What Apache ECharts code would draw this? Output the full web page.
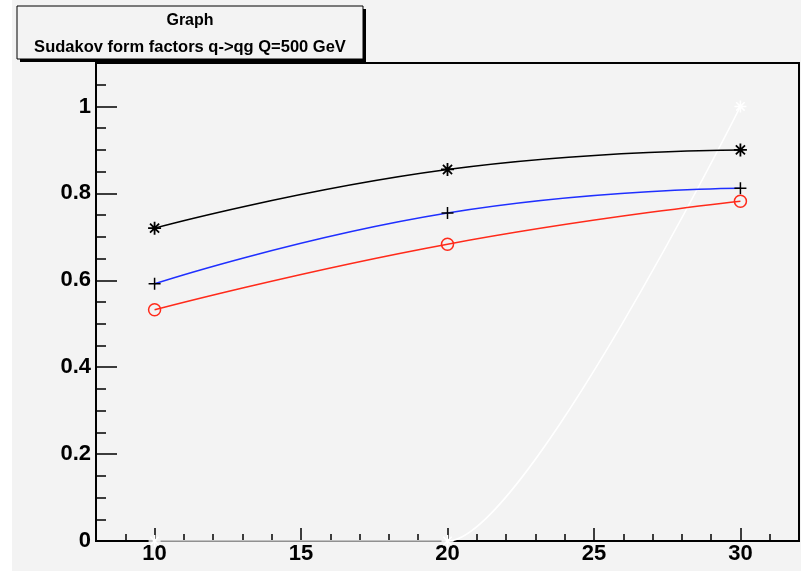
<!DOCTYPE html>
<html>
<head>
<meta charset="utf-8">
<script src="https://cdn.jsdelivr.net/npm/echarts@6/dist/echarts.min.js"></script>
<style>
  html, body { margin: 0; padding: 0; background: #ffffff; }
  #chart { position: absolute; left: 12px; top: 0; width: 789px; height: 571px; background: #f3f3f3; }
</style>
</head>
<body>
<div id="chart"></div>
<script>
// data
const xMajorTicks = [10, 15, 20, 25, 30];
const xMinorTicks = [8, 9, 11, 12, 13, 14, 16, 17, 18, 19, 21, 22, 23, 24, 26, 27, 28, 29, 31, 32];
const yMajorTicks = [0, 0.2, 0.4, 0.6, 0.8, 1];
const yMinorTicks = [0.05, 0.1, 0.15, 0.25, 0.3, 0.35, 0.45, 0.5, 0.55, 0.65, 0.7, 0.75, 0.85, 0.9, 0.95, 1.05];

const xValues = [10, 20, 30];
const blackValues = [0.72, 0.855, 0.9];
const blueValues = [0.592, 0.755, 0.812];
const redValues = [0.532, 0.683, 0.782];
const whiteValues = [0, 0, 1.0];

const titleLine1 = 'Graph';
const titleLine2 = 'Sudakov form factors q->qg Q=500 GeV';

const asterisk = 'path://M-1,0L1,0M0,-1L0,1M-0.7,-0.7L0.7,0.7M-0.7,0.7L0.7,-0.7';
const plus = 'path://M-1,0L1,0M0,-1L0,1';

const pairs = (ys) => xValues.map((x, i) => [x, ys[i]]);

const chart = echarts.init(document.getElementById('chart'));

const labelStyle = {
  color: '#000',
  fontSize: 22,
  fontWeight: 'bold',
  fontFamily: 'Liberation Sans, Arial, sans-serif',
};

const option = {
  animation: false,
  grid: {
    left: 84,
    right: 2,
    top: 63,
    bottom: 30,
    show: true,
    borderColor: '#000',
    borderWidth: 2,
    backgroundColor: 'transparent',
  },
  xAxis: [
    {
      type: 'value',
      min: 8,
      max: 32,
      axisLine: { lineStyle: { color: '#000', width: 2 } },
      axisTick: { inside: true, length: 13, customValues: xMajorTicks, lineStyle: { color: '#000', width: 1.5 } },
      axisLabel: { ...labelStyle, margin: 2, customValues: xMajorTicks },
      splitLine: { show: false },
    },
    {
      type: 'value',
      min: 8,
      max: 32,
      position: 'bottom',
      axisLine: { show: false },
      axisTick: { inside: true, length: 7, customValues: xMinorTicks, lineStyle: { color: '#000', width: 1.5 } },
      axisLabel: { show: false },
      splitLine: { show: false },
    },
  ],
  yAxis: [
    {
      type: 'value',
      min: 0,
      max: 1.1,
      axisLine: { show: true, lineStyle: { color: '#000', width: 2 } },
      axisTick: { inside: true, length: 21, customValues: yMajorTicks, lineStyle: { color: '#000', width: 1.5 } },
      axisLabel: { ...labelStyle, margin: 5, customValues: yMajorTicks, formatter: (v) => String(+v.toFixed(1)) },
      splitLine: { show: false },
    },
    {
      type: 'value',
      min: 0,
      max: 1.1,
      position: 'left',
      axisLine: { show: false },
      axisTick: { show: true, inside: true, length: 10, customValues: yMinorTicks, lineStyle: { color: '#000', width: 1.5 } },
      axisLabel: { show: false },
      splitLine: { show: false },
    },
  ],
  graphic: [
    // title box with ROOT-style shadow
    { type: 'rect', shape: { x: 8, y: 9, width: 346, height: 53 }, style: { fill: '#000' }, z: 10 },
    { type: 'rect', shape: { x: 5, y: 6, width: 346, height: 53 }, style: { fill: '#f3f3f3', stroke: '#000', lineWidth: 1 }, z: 11 },
    {
      type: 'text', x: 178, y: 21, z: 12,
      style: { text: titleLine1, fill: '#000', font: 'bold 16px "Liberation Sans", Arial, sans-serif', align: 'center', verticalAlign: 'middle' },
    },
    {
      type: 'text', x: 178, y: 47, z: 12,
      style: { text: titleLine2, fill: '#000', font: 'bold 16.5px "Liberation Sans", Arial, sans-serif', align: 'center', verticalAlign: 'middle' },
    },
  ],
  series: [
    {
      type: 'line',
      data: pairs(whiteValues),
      smooth: 0.2,
      symbol: asterisk,
      symbolSize: 12,
      lineStyle: { color: '#fff', width: 1.5 },
      itemStyle: { color: 'transparent', borderColor: '#fff', borderWidth: 1.5 },
      z: 1,
    },
    {
      type: 'line',
      data: pairs(blackValues),
      smooth: true,
      symbol: asterisk,
      symbolSize: 13,
      lineStyle: { color: '#000', width: 1.5 },
      itemStyle: { color: 'transparent', borderColor: '#000', borderWidth: 1.8 },
    },
    {
      type: 'line',
      data: pairs(blueValues),
      smooth: true,
      symbol: plus,
      symbolSize: 12,
      lineStyle: { color: '#1f2fff', width: 1.5 },
      itemStyle: { color: 'transparent', borderColor: '#000', borderWidth: 1.5 },
    },
    {
      type: 'line',
      data: pairs(redValues),
      smooth: true,
      symbol: 'circle',
      symbolSize: 12,
      lineStyle: { color: '#ff2a1a', width: 1.5 },
      itemStyle: { color: 'rgba(0,0,0,0)', borderColor: '#ff2a1a', borderWidth: 1.5 },
    },
  ],
};

chart.setOption(option);
</script>
</body>
</html>
